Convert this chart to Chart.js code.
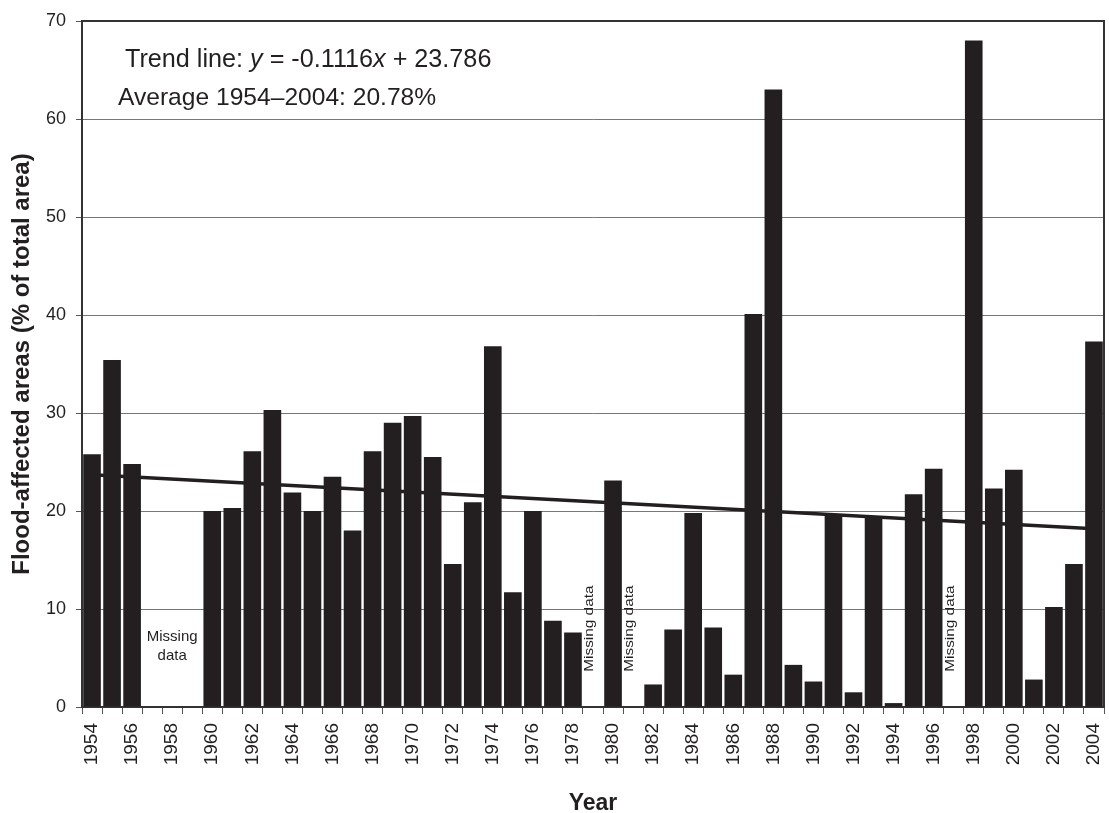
<!DOCTYPE html>
<html lang="en">
<head>
  <meta charset="UTF-8">
  <title>Flood-affected areas</title>
  <script src="https://cdn.jsdelivr.net/npm/chart.js"></script>
  <style>
    html, body { margin: 0; padding: 0; background: #fff; }
    #wrap { width: 1109px; height: 813px; }
  </style>
</head>
<body>
  <div id="wrap"><canvas id="floodChart" width="1109" height="813"></canvas></div>

  <script>
    // data (null = missing data)
    const years = [];
    for (let y = 1954; y <= 2004; y++) years.push(String(y));

    const floodArea = [
      25.8, 35.4, 24.8, null, null, null, 20.0, 20.3, 26.1, 30.3,
      21.9, 20.0, 23.5, 18.0, 26.1, 29.0, 29.7, 25.5, 14.6, 20.9,
      36.8, 11.7, 20.0, 8.8, 7.6, null, 23.1, null, 2.3, 7.9,
      19.8, 8.1, 3.3, 40.1, 63.0, 4.3, 2.6, 19.5, 1.5, 19.5,
      0.4, 21.7, 24.3, null, 68.0, 22.3, 24.2, 2.8, 10.2, 14.6,
      37.3
    ];

    // trend line end points (1954 and 2004)
    const trendYears = ['1954', '2004'];
    const trendValues = [23.7, 18.2];

    const missingRotated = ['1979', '1981', '1997'];
    const missingBlock = '1958';

    const yTicks = [0, 10, 20, 30, 40, 50, 60, 70];

    const trendData = years.map(y => {
      const i = trendYears.indexOf(y);
      return i >= 0 ? trendValues[i] : null;
    });

    const FONT = '"Liberation Sans", Arial, sans-serif';
    const INK = '#231f20';

    // frame, annotations and missing-data notes
    const notes = {
      id: 'notes',
      afterDraw(chart) {
        const ctx = chart.ctx;
        const a = chart.chartArea;
        const xs = chart.scales.x, ys = chart.scales.y;
        ctx.save();

        // top and right frame
        ctx.strokeStyle = '#333';
        ctx.lineWidth = 2;
        ctx.beginPath();
        ctx.moveTo(a.left, a.top);
        ctx.lineTo(a.right, a.top);
        ctx.lineTo(a.right, a.bottom);
        ctx.stroke();

        ctx.fillStyle = INK;
        ctx.textBaseline = 'alphabetic';
        ctx.textAlign = 'left';

        // trend line text with italic x and y
        let x = 125, y = 67;
        const parts = [
          ['Trend line: ', ''], ['y', 'italic '], [' = -0.1116', ''],
          ['x', 'italic '], [' + 23.786', '']
        ];
        parts.forEach(p => {
          ctx.font = p[1] + '25.2px ' + FONT;
          ctx.fillText(p[0], x, y);
          x += ctx.measureText(p[0]).width;
        });
        ctx.font = '24.6px ' + FONT;
        ctx.fillText('Average 1954\u20132004: 20.78%', 118, 105);

        // horizontal missing-data note
        ctx.font = '15px ' + FONT;
        ctx.textAlign = 'center';
        const mx = xs.getPixelForValue(years.indexOf(missingBlock));
        ctx.fillText('Missing', mx, ys.getPixelForValue(6.7));
        ctx.fillText('data', mx, ys.getPixelForValue(4.8));

        // vertical missing-data notes (stretched lettering as in the print)
        ctx.font = '12px ' + FONT;
        ctx.textAlign = 'left';
        ctx.textBaseline = 'middle';
        missingRotated.forEach(yr => {
          const px = xs.getPixelForValue(years.indexOf(yr));
          ctx.save();
          ctx.translate(px - 3, ys.getPixelForValue(3.6));
          ctx.rotate(-Math.PI / 2);
          ctx.scale(1.28, 1);
          ctx.fillText('Missing data', 0, 0);
          ctx.restore();
        });

        ctx.restore();
      }
    };

    new Chart(document.getElementById('floodChart'), {
      type: 'bar',
      data: {
        labels: years,
        datasets: [{
          type: 'line',
          label: 'Trend',
          data: trendData,
          spanGaps: true,
          borderColor: INK,
          borderWidth: 3.5,
          pointRadius: 0,
          order: 2
        }, {
          label: 'Flood-affected area',
          data: floodArea,
          backgroundColor: INK,
          borderWidth: 0,
          barPercentage: 0.88,
          categoryPercentage: 1.0,
          order: 1
        }]
      },
      options: {
        responsive: false,
        animation: false,
        layout: { padding: { top: 21, right: 5, left: 0, bottom: 0 } },
        plugins: {
          legend: { display: false },
          tooltip: { enabled: false }
        },
        scales: {
          x: {
            offset: true,
            grid: {
              offset: true,
              drawOnChartArea: false,
              drawTicks: true,
              tickLength: 7,
              color: '#555'
            },
            border: { color: '#333', width: 2 },
            ticks: {
              autoSkip: false,
              maxRotation: 90,
              minRotation: 90,
              padding: 9,
              color: INK,
              font: { family: FONT, size: 19 },
              callback: function (val, idx) {
                return idx % 2 === 0 ? this.getLabelForValue(val) : '';
              }
            },
            title: {
              display: true,
              text: 'Year',
              color: INK,
              font: { family: FONT, size: 23, weight: 'bold' },
              padding: { top: 13, bottom: -4 }
            },
            afterFit(scale) {
              scale.height = 106;
              scale.paddingLeft = 0;
              scale.paddingRight = 0;
            }
          },
          y: {
            min: 0,
            max: 70,
            afterBuildTicks(scale) { scale.ticks = yTicks.map(v => ({ value: v })); },
            grid: {
              color: ctx => ctx.tick && (ctx.tick.value === 0 || ctx.tick.value === 70) ? 'rgba(0,0,0,0)' : '#777',
              tickColor: '#555',
              tickLength: 6,
              lineWidth: 1
            },
            border: { color: '#333', width: 2 },
            ticks: {
              color: INK,
              padding: 10,
              font: { family: FONT, size: 18 }
            },
            title: {
              display: true,
              text: 'Flood-affected areas (% of total area)',
              color: INK,
              font: { family: FONT, size: 24, weight: 'bold' },
              padding: { top: 8, bottom: 4 }
            },
            afterFit(scale) { scale.width = 82; }
          }
        }
      },
      plugins: [notes]
    });
  </script>
</body>
</html>
